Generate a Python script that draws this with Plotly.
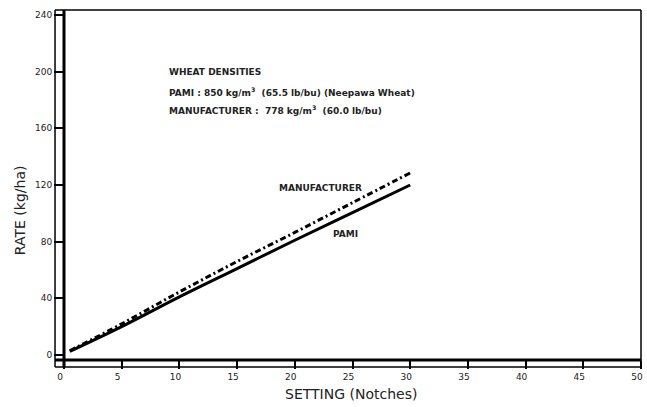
import plotly.graph_objects as go

# Data
setting = [0.5, 5, 10, 15, 20, 25, 30]
pami_rate = [2.5, 20, 41, 61, 81, 100.5, 120]
manuf_rate = [3, 22, 44.5, 66, 86.5, 107.5, 128.5]

x_ticks = [0, 5, 10, 15, 20, 25, 30, 35, 40, 45, 50]
y_ticks = [0, 40, 80, 120, 160, 200, 240]

FONT = "DejaVu Sans"

fig = go.Figure()
fig.add_trace(go.Scatter(x=setting, y=manuf_rate, mode="lines", name="MANUFACTURER",
                         line=dict(color="black", width=3, dash="6px,3px,2px,3px"),
                         line_shape="spline"))
fig.add_trace(go.Scatter(x=setting, y=pami_rate, mode="lines", name="PAMI",
                         line=dict(color="black", width=3), line_shape="spline"))

L, R, T, B = 64, 4, 10, 47
W, H = 647, 407
pw = W - L - R
ph = H - T - B
px = lambda p: (p - L) / pw
py = lambda p: (H - B - p) / ph

shapes = []
# thin outer box
shapes.append(dict(type="line", xref="paper", yref="paper", x0=px(55), x1=px(55), y0=py(367), y1=1,
                   line=dict(color="black", width=1.5)))
shapes.append(dict(type="line", xref="paper", yref="paper", x0=px(55), x1=1, y0=py(367), y1=py(367),
                   line=dict(color="black", width=1.5)))
shapes.append(dict(type="line", xref="paper", yref="paper", x0=px(55), x1=1, y0=1, y1=1,
                   line=dict(color="black", width=1.5)))
shapes.append(dict(type="line", xref="paper", yref="paper", x0=1, x1=1, y0=py(367), y1=1,
                   line=dict(color="black", width=1.5)))
# thick axis lines
shapes.append(dict(type="line", xref="paper", yref="paper", x0=0, x1=0, y0=py(367), y1=1,
                   line=dict(color="black", width=3)))
shapes.append(dict(type="line", xref="paper", yref="paper", x0=px(55), x1=1, y0=0, y1=0,
                   line=dict(color="black", width=3)))

ann = []
txt = dict(family=FONT, size=9, color="#222")
ann.append(dict(x=8.9, y=199.8, xref="x", yref="y", text="<b>WHEAT DENSITIES</b>",
                showarrow=False, xanchor="left", yanchor="middle", font=txt))
ann.append(dict(x=8.9, y=185.6, xref="x", yref="y",
                text="<b>PAMI : 850 kg/m<sup>3</sup>  (65.5 lb/bu) (Neepawa Wheat)</b>",
                showarrow=False, xanchor="left", yanchor="middle", font=txt))
ann.append(dict(x=8.9, y=173, xref="x", yref="y",
                text="<b>MANUFACTURER :  778 kg/m<sup>3</sup>  (60.0 lb/bu)</b>",
                showarrow=False, xanchor="left", yanchor="middle", font=txt))
ann.append(dict(x=22.2, y=118, xref="x", yref="y", text="<b>MANUFACTURER</b>",
                showarrow=False, xanchor="center", yanchor="middle", font=txt))
ann.append(dict(x=24.35, y=85.4, xref="x", yref="y", text="<b>PAMI</b>",
                showarrow=False, xanchor="center", yanchor="middle", font=txt))
ann.append(dict(x=px(20), y=py(210), xref="paper", yref="paper", text="RATE (kg/ha)",
                showarrow=False, textangle=-90, xanchor="center", yanchor="middle",
                font=dict(family=FONT, size=14, color="#222")))
ann.append(dict(x=px(352), y=py(394), xref="paper", yref="paper", text="SETTING (Notches)",
                showarrow=False, xanchor="center", yanchor="middle",
                font=dict(family=FONT, size=14, color="#222")))

fig.update_layout(
    width=W, height=H,
    margin=dict(l=L, r=R, t=T, b=B),
    paper_bgcolor="white", plot_bgcolor="white",
    showlegend=False,
    shapes=shapes, annotations=ann,
    xaxis=dict(range=[0, 50], tickvals=x_ticks, ticks="outside", ticklen=8, tickwidth=1.5,
               tickcolor="black", showgrid=False, zeroline=False, showline=False,
               ticklabelshift=-4, ticklabeloverflow="allow",
               tickfont=dict(family=FONT, size=9, color="#222")),
    yaxis=dict(range=[-3.53, 243.5], tickvals=y_ticks, ticks="outside", ticklen=9, tickwidth=1.5,
               tickcolor="black", showgrid=False, zeroline=False, showline=False,
               tickfont=dict(family=FONT, size=9, color="#222")),
)

fig.write_html("out.html", config={"displayModeBar": False},
               post_script="document.body.style.margin='0';document.body.style.padding='0';")
